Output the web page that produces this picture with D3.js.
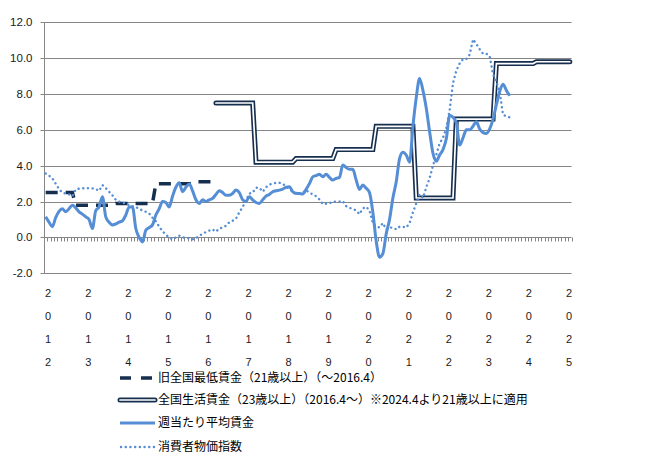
<!DOCTYPE html>
<html lang="ja">
<head>
<meta charset="UTF-8">
<title>UK wages chart</title>
<script src="https://d3js.org/d3.v7.min.js"></script>
<style>
    body { margin: 0; background: #fff; }
    text { font-family: "Liberation Sans", Arial, sans-serif; }
    .legend text { font-family: "Noto Sans CJK JP", sans-serif; }
</style>
</head>
<body>
<svg id="chart"></svg>
<script>
    const width = 649, height = 467;

    // months on the category axis: 2012.1 .. 2025.2
    const startYear = 2012, monthCount = 158;
    const months = [];
    for (let i = 0; i < monthCount; i++) {
        const yy = startYear + Math.floor(i / 12), mm = i % 12 + 1;
        months.push(yy + '-' + String(mm).padStart(2, '0'));
    }
    const yearLabels = ['2012','2013','2014','2015','2016','2017','2018','2019','2020','2021','2022','2023','2024','2025'];
    const yTicks = [-2, 0, 2, 4, 6, 8, 10, 12];

    // 旧全国最低賃金 : rate and the month it took effect (ends 2016.3)
    const oldMinStarts = ['2012-01','2012-10','2013-10','2014-10','2015-10'];
    const oldMinRates  = [2.5, 1.8, 1.9, 3.0, 3.1];
    const oldMinEnd = '2016-03';

    // 全国生活賃金 : rate and the month it took effect
    const nlwStarts = ['2016-04','2017-04','2018-04','2019-04','2020-04','2021-04','2022-04','2023-04','2024-04'];
    const nlwRates  = [7.5, 4.2, 4.4, 4.9, 6.2, 2.2, 6.6, 9.7, 9.8];
    const nlwEnd = '2025-02';

    // 週当たり平均賃金 (monthly from 2012.1)
    const weeklyPay = [
        1.15, 0.85, 0.6, 1.1, 1.45, 1.6, 1.43, 1.6, 1.8, 1.65, 1.43, 1.3,
        1.15, 1.0, 0.5, 1.5, 1.7, 2.27, 1.15, 0.85, 0.7, 0.75, 0.85, 0.93,
        1.25, 1.7, 1.7, 0.5, 0.0, -0.25, 0.4, 0.55, 0.7, 1.25, 1.6, 2.0,
        1.95, 1.7, 2.3, 2.8, 3.05, 2.55, 2.8, 2.98, 2.6, 2.1, 1.9, 2.1,
        2.0, 2.1, 2.18, 2.4, 2.6, 2.5, 2.36, 2.36, 2.45, 2.64, 2.5, 2.1,
        2.0, 2.27, 2.1, 1.95, 1.9, 2.1, 2.3, 2.4, 2.55, 2.6, 2.64, 2.7,
        2.8, 2.83, 2.55, 2.46, 2.45, 2.42, 2.68, 3.0, 3.38, 3.45, 3.52, 3.38,
        3.53, 3.35, 3.2, 3.3, 3.35, 4.04, 3.9, 3.8, 3.8, 3.2, 2.68, 2.92,
        2.74, 2.5, 1.4, -0.2, -1.1, -0.9, 0.2, 1.0, 2.2, 3.1, 4.4, 4.75,
        4.6, 4.2, 6.2, 7.8, 8.87, 8.2, 7.2, 5.9, 4.7, 4.25, 4.6, 4.9,
        5.5, 6.8, 6.7, 6.4, 5.15, 5.55, 6.0, 6.0, 6.2, 6.45, 6.05, 5.85,
        5.8, 6.05, 6.6, 7.4, 8.15, 8.55, 8.2, 7.9
    ];

    // 消費者物価指数 (monthly from 2012.1)
    const cpi = [
        3.57, 3.45, 3.3, 3.0, 2.7, 2.5, 2.45, 2.4, 2.3, 2.68, 2.72, 2.74,
        2.74, 2.75, 2.74, 2.7, 2.6, 2.92, 2.75, 2.55, 2.35, 2.1, 2.0, 1.94,
        1.9, 1.8, 1.75, 1.7, 1.6, 1.5, 1.43, 1.34, 1.1, 0.9, 0.6, 0.35,
        0.15, 0.0, -0.1, 0.0, 0.1, 0.0, 0.0, -0.05, -0.1, -0.05, 0.1, 0.2,
        0.3, 0.38, 0.45, 0.32, 0.5, 0.55, 0.65, 0.85, 0.93, 1.05, 1.4, 1.7,
        2.05, 2.45, 2.5, 2.77, 2.77, 2.55, 2.8, 2.95, 3.0, 3.05, 3.05, 3.0,
        2.83, 2.7, 2.55, 2.42, 2.45, 2.5, 2.64, 2.5, 2.4, 2.3, 2.12, 1.86,
        1.88, 1.9, 2.0, 2.0, 2.0, 2.03, 1.75, 1.65, 1.6, 1.5, 1.3, 1.62,
        1.71, 1.5, 0.8, 0.6, 0.56, 0.8, 0.45, 0.55, 0.55, 0.45, 0.6, 0.6,
        0.55, 0.8, 1.4, 1.9, 2.4, 2.2, 2.8, 3.3, 4.0, 4.6, 5.25, 5.55,
        6.1, 7.1, 8.6, 9.3, 9.7, 9.95, 9.95, 10.2, 11.05, 10.8, 10.5, 10.25,
        10.25, 10.1, 9.1, 8.7, 8.1, 6.85, 6.75, 6.7
    ];

    const legendLabels = [
        '旧全国最低賃金（21歳以上）（～2016.4）',
        '全国生活賃金（23歳以上）（2016.4～）※2024.4より21歳以上に適用',
        '週当たり平均賃金',
        '消費者物価指数'
    ];

    const navy = '#172f4f', blue = '#558ed5', grid = '#868686';

    // step series -> one point per month
    function steps(starts, rates, end) {
        const pts = [];
        const last = months.indexOf(end);
        starts.forEach((s, k) => {
            const a = months.indexOf(s);
            const b = k + 1 < starts.length ? months.indexOf(starts[k + 1]) - 1 : last;
            for (let i = a; i <= b; i++) pts.push({m: months[i], v: rates[k]});
        });
        return pts;
    }
    const monthly = arr => arr.map((v, i) => ({m: months[i], v: v}));

    const svg = d3.select('#chart').attr('width', width).attr('height', height);

    const x = d3.scaleBand().domain(months).range([44, 571.5]).padding(0);
    const y = d3.scaleLinear().domain([-2, 12]).range([273.3, 22.3]);
    const cx = m => x(m) + x.bandwidth() / 2;

    // grid
    svg.append('g').selectAll('line')
        .data(yTicks)
        .join('line')
        .attr('x1', 44).attr('x2', 571.5)
        .attr('y1', d => Math.round(y(d)) + 0.5).attr('y2', d => Math.round(y(d)) + 0.5)
        .attr('stroke', grid).attr('stroke-width', 1);

    // y axis
    const yAxis = svg.append('g').attr('transform', 'translate(44.5,0)');
    yAxis.append('line').attr('y1', y(12)).attr('y2', y(-2)).attr('stroke', grid);
    yAxis.selectAll('.tk').data(yTicks).join('line')
        .attr('x1', -4).attr('x2', 0)
        .attr('y1', d => Math.round(y(d)) + 0.5).attr('y2', d => Math.round(y(d)) + 0.5)
        .attr('stroke', grid);
    yAxis.selectAll('text').data(yTicks).join('text')
        .attr('x', -12).attr('y', d => y(d)).attr('dy', '0.35em')
        .attr('text-anchor', 'end').attr('font-size', 11.5).attr('fill', '#1a1a1a')
        .text(d => d.toFixed(1));

    // category ticks on the zero line
    const y0 = Math.round(y(0)) + 0.5;
    svg.append('g').selectAll('line')
        .data(d3.range(monthCount + 1))
        .join('line')
        .attr('x1', i => Math.round(44 + i * x.bandwidth()) + 0.5)
        .attr('x2', i => Math.round(44 + i * x.bandwidth()) + 0.5)
        .attr('y1', y0).attr('y2', y0 + 4)
        .attr('stroke', grid);

    // year labels, one digit per row
    const xl = svg.append('g');
    yearLabels.forEach(yr => {
        const px = cx(yr + '-01') + 2.5;
        yr.split('').forEach((ch, r) => {
            xl.append('text')
                .attr('x', px).attr('y', 293 + r * 23).attr('dy', '0.35em')
                .attr('text-anchor', 'middle').attr('font-size', 11).attr('fill', '#1a1a1a')
                .text(ch);
        });
    });

    const line = d3.line().x(d => cx(d.m)).y(d => y(d.v));

    // 旧全国最低賃金
    svg.append('path').datum(steps(oldMinStarts, oldMinRates, oldMinEnd))
        .attr('d', line).attr('fill', 'none')
        .attr('stroke', navy).attr('stroke-width', 3.5)
        .attr('stroke-dasharray', '12,8');

    // 全国生活賃金 (double line)
    const nlw = steps(nlwStarts, nlwRates, nlwEnd);
    svg.append('path').datum(nlw).attr('d', line).attr('fill', 'none')
        .attr('stroke', navy).attr('stroke-width', 5).attr('stroke-linecap', 'round');
    svg.append('path').datum(nlw).attr('d', line).attr('fill', 'none')
        .attr('stroke', '#fff').attr('stroke-width', 1.7).attr('stroke-linecap', 'round');

    // 週当たり平均賃金
    svg.append('path').datum(monthly(weeklyPay))
        .attr('d', line.curve(d3.curveMonotoneX)).attr('fill', 'none')
        .attr('stroke', blue).attr('stroke-width', 3).attr('stroke-linejoin', 'round');

    // 消費者物価指数
    svg.append('path').datum(monthly(cpi))
        .attr('d', line.curve(d3.curveLinear)).attr('fill', 'none')
        .attr('stroke', blue).attr('stroke-width', 2.4)
        .attr('stroke-linecap', 'round').attr('stroke-dasharray', '0.1,4.6');

    // legend
    const legendY = [378, 400, 423, 447];
    const lg = svg.append('g').attr('class', 'legend');
    legendLabels.forEach((t, k) => {
        const g = lg.append('g').attr('transform', `translate(0,${legendY[k]})`);
        if (k === 0) {
            g.append('line').attr('x1', 120).attr('x2', 155)
                .attr('stroke', navy).attr('stroke-width', 3.5).attr('stroke-dasharray', '11,10');
        } else if (k === 1) {
            g.append('line').attr('x1', 120).attr('x2', 155)
                .attr('stroke', navy).attr('stroke-width', 5).attr('stroke-linecap', 'round');
            g.append('line').attr('x1', 120).attr('x2', 155)
                .attr('stroke', '#fff').attr('stroke-width', 1.7).attr('stroke-linecap', 'round');
        } else if (k === 2) {
            g.append('line').attr('x1', 120).attr('x2', 155)
                .attr('stroke', blue).attr('stroke-width', 3);
        } else {
            g.append('line').attr('x1', 121).attr('x2', 155)
                .attr('stroke', blue).attr('stroke-width', 2.4)
                .attr('stroke-linecap', 'round').attr('stroke-dasharray', '0.1,4.6');
        }
        g.append('text').attr('x', 158).attr('dy', '0.35em')
            .attr('font-size', 12).attr('fill', '#000').text(t);
    });
</script>
</body>
</html>
